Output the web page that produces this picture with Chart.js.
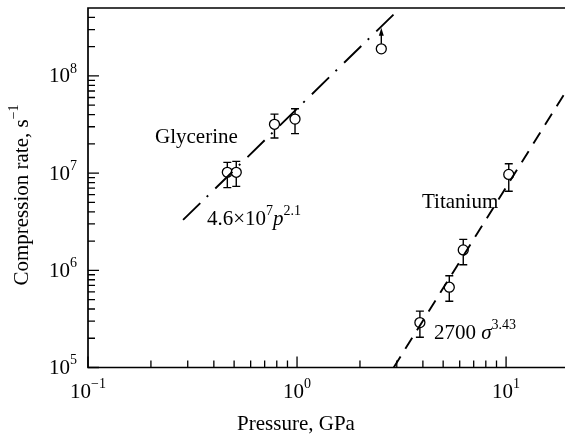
<!DOCTYPE html>
<html>
<head>
<meta charset="utf-8">
<script src="https://cdn.jsdelivr.net/npm/chart.js@4"></script>
<style>
  html, body { margin: 0; padding: 0; background: #fff; overflow: hidden; }
  canvas { display: block; }
</style>
</head>
<body>
<canvas id="rateChart" width="580" height="436"></canvas>
<script>
// Glycerine measurements (pressure GPa, compression rate 1/s)
const glyPressure = [0.464, 0.512, 0.78, 0.978, 2.53]
const glyRate = [1.02e7, 1.02e7, 3.18e7, 3.6e7, 1.9e8]
const glyErrLow = [7.1e6, 7.3e6, 2.3e7, 2.55e7, null]
const glyErrHigh = [1.29e7, 1.32e7, 4.05e7, 4.6e7, null]
const glyLowerBound = [false, false, false, false, true]

// Titanium measurements
const tiPressure = [3.87, 5.35, 6.24, 10.3]
const tiRate = [2.9e5, 6.7e5, 1.62e6, 9.7e6]
const tiErrLow = [2.05e5, 4.8e5, 1.14e6, 6.5e6]
const tiErrHigh = [3.8e5, 8.8e5, 2.08e6, 1.25e7]

// Fit lines (end points)
const glyFitPressure = [0.285, 2.9]
const glyFitRate = [3.3e6, 4.3e8]
const tiFitPressure = [2.9, 20]
const tiFitRate = [1.0e5, 7.8e7]

// Tick labels as powers of ten
const xTickExp = [-1, 0, 1]
const yTickExp = [5, 6, 7, 8]

const FONT = '"Liberation Serif", "Times New Roman", serif'

function toPoints(xs, ys) {
    return xs.map((x, i) => ({ x: x, y: ys[i] }))
}

// draw text made of parts: {t, sup, it}
function drawRich(ctx, parts, x, y, align, size) {
    const supSize = Math.round(size * 0.66)
    let width = 0
    const widths = parts.map((p) => {
        ctx.font = `${p.it ? 'italic ' : ''}${p.sup ? supSize : size}px ${FONT}`
        const w = ctx.measureText(p.t).width
        width += w
        return w
    })
    let cx = x
    if (align === 'center') cx = x - width / 2
    if (align === 'right') cx = x - width
    ctx.textBaseline = 'middle'
    ctx.textAlign = 'left'
    parts.forEach((p, i) => {
        ctx.font = `${p.it ? 'italic ' : ''}${p.sup ? supSize : size}px ${FONT}`
        ctx.fillText(p.t, cx, p.sup ? y - size * 0.38 : y)
        cx += widths[i]
    })
}

const axesPlugin = {
    id: 'axesPlugin',
    beforeDatasetsDraw(chart) {
        const ctx = chart.ctx
        const xs = chart.scales.x
        const ys = chart.scales.y
        ctx.save()
        ctx.strokeStyle = '#000'
        ctx.lineWidth = 1.4
        const drawBars = (px, rate, lo, hi) => {
            px.forEach((p, i) => {
                if (lo[i] == null) return
                const x = xs.getPixelForValue(p)
                const yl = ys.getPixelForValue(lo[i])
                const yh = ys.getPixelForValue(hi[i])
                ctx.beginPath()
                ctx.moveTo(x, yl)
                ctx.lineTo(x, yh)
                ctx.moveTo(x - 4, yl)
                ctx.lineTo(x + 4, yl)
                ctx.moveTo(x - 4, yh)
                ctx.lineTo(x + 4, yh)
                ctx.stroke()
            })
        }
        drawBars(glyPressure, glyRate, glyErrLow, glyErrHigh)
        drawBars(tiPressure, tiRate, tiErrLow, tiErrHigh)
        ctx.restore()
    },
    afterDatasetsDraw(chart) {
        const ctx = chart.ctx
        const area = chart.chartArea
        const xs = chart.scales.x
        const ys = chart.scales.y
        ctx.save()
        ctx.strokeStyle = '#000'
        ctx.fillStyle = '#000'

        // arrows on lower-bound points
        glyPressure.forEach((p, i) => {
            if (!glyLowerBound[i]) return
            const x = xs.getPixelForValue(p)
            const y = ys.getPixelForValue(glyRate[i])
            ctx.lineWidth = 1.4
            ctx.beginPath()
            ctx.moveTo(x, y - 5)
            ctx.lineTo(x, y - 14)
            ctx.stroke()
            ctx.beginPath()
            ctx.moveTo(x, y - 21)
            ctx.lineTo(x - 2.5, y - 13)
            ctx.lineTo(x + 2.5, y - 13)
            ctx.closePath()
            ctx.fill()
        })

        // frame: left, top, bottom
        ctx.lineWidth = 1.7
        ctx.beginPath()
        ctx.moveTo(area.right + 20, area.top)
        ctx.lineTo(area.left, area.top)
        ctx.lineTo(area.left, area.bottom)
        ctx.lineTo(area.right + 20, area.bottom)
        ctx.stroke()

        // inward ticks
        ctx.lineWidth = 1.3
        ctx.beginPath()
        for (let e = -1; e <= 1; e++) {
            for (let m = 1; m <= 9; m++) {
                const v = m * Math.pow(10, e)
                if (v > xs.max) continue
                const x = xs.getPixelForValue(v)
                const len = m === 1 ? 11 : 7
                ctx.moveTo(x, area.bottom)
                ctx.lineTo(x, area.bottom - len)
            }
        }
        for (let e = 5; e <= 8; e++) {
            for (let m = 1; m <= 9; m++) {
                const v = m * Math.pow(10, e)
                if (v >= ys.max || v <= ys.min && m > 1) continue
                const y = ys.getPixelForValue(v)
                const len = m === 1 ? 11 : 7
                ctx.moveTo(area.left, y)
                ctx.lineTo(area.left + len, y)
            }
        }
        ctx.stroke()

        // tick labels
        const size = 21
        xTickExp.forEach((e) => {
            const x = xs.getPixelForValue(Math.pow(10, e))
            const ex = e < 0 ? '\u2212' + Math.abs(e) : String(e)
            drawRich(ctx, [{ t: '10' }, { t: ex, sup: true }], x, area.bottom + 25, 'center', size)
        })
        yTickExp.forEach((e) => {
            const y = ys.getPixelForValue(Math.pow(10, e))
            drawRich(ctx, [{ t: '10' }, { t: String(e), sup: true }], area.left - 11, y + 1, 'right', size)
        })

        // axis titles
        drawRich(ctx, [{ t: 'Pressure, GPa' }], 296, 424, 'center', size)
        ctx.save()
        ctx.translate(22, 195)
        ctx.rotate(-Math.PI / 2)
        drawRich(ctx, [{ t: 'Compression rate, s' }, { t: '\u22121', sup: true }], 0, 0, 'center', size)
        ctx.restore()

        // annotations
        drawRich(ctx, [{ t: 'Glycerine' }], 155, 137, 'left', size)
        drawRich(ctx, [{ t: '4.6\u00d710' }, { t: '7', sup: true }, { t: 'p', it: true }, { t: '2.1', sup: true }], 207, 219, 'left', size)
        drawRich(ctx, [{ t: 'Titanium' }], 422, 202, 'left', size)
        drawRich(ctx, [{ t: '2700 ' }, { t: '\u03c3', it: true }, { t: '3.43', sup: true }], 434, 333, 'left', size)
        ctx.restore()
    }
}

const ctx = document.getElementById('rateChart')
const rateChart = new Chart(ctx, {
    type: 'scatter',
    data: {
        datasets: [
            {
                label: 'Glycerine fit',
                type: 'line',
                data: toPoints(glyFitPressure, glyFitRate),
                borderColor: '#000',
                borderWidth: 1.9,
                borderDash: [24, 9, 2, 10],
                pointRadius: 0,
                fill: false,
                order: 0,
            },
            {
                label: 'Titanium fit',
                type: 'line',
                data: toPoints(tiFitPressure, tiFitRate),
                borderColor: '#000',
                borderWidth: 1.9,
                borderDash: [13, 9],
                pointRadius: 0,
                fill: false,
                order: 0,
            },
            {
                label: 'Glycerine',
                data: toPoints(glyPressure, glyRate),
                pointRadius: 5,
                pointBackgroundColor: '#fff',
                pointBorderColor: '#000',
                pointBorderWidth: 1.3,
                order: 1,
            },
            {
                label: 'Titanium',
                data: toPoints(tiPressure, tiRate),
                pointRadius: 5,
                pointBackgroundColor: '#fff',
                pointBorderColor: '#000',
                pointBorderWidth: 1.3,
                order: 1,
            },
        ],
    },
    options: {
        responsive: false,
        animation: false,
        layout: {
            padding: { left: 88, top: 8, right: 11, bottom: 68.5 },
        },
        plugins: {
            legend: { display: false },
            tooltip: { enabled: false },
        },
        scales: {
            x: { type: 'logarithmic', min: 0.1, max: 20, display: false },
            y: { type: 'logarithmic', min: 1e5, max: 5e8, display: false },
        },
    },
    plugins: [axesPlugin],
});
</script>
</body>
</html>
